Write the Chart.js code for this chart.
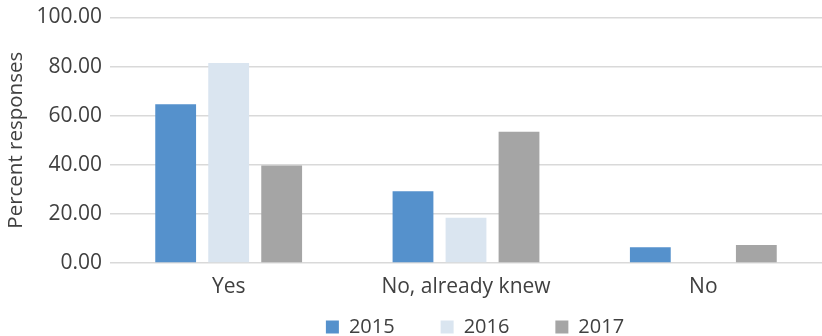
<!DOCTYPE html>
<html>
<head>
<meta charset="utf-8">
<script src="https://cdn.jsdelivr.net/npm/chart.js@4"></script>
<style>
  html, body { margin: 0; padding: 0; background: #fff; }
  #wrap { width: 822px; height: 336px; }
</style>
</head>
<body>
<div id="wrap"><canvas id="BarChart"></canvas></div>
<script>
const categories = ['Yes', 'No, already knew', 'No'];
const years = ['2015', '2016', '2017'];
const values2015 = [64.7, 29.2, 6.4];
const values2016 = [81.5, 18.4, 0];
const values2017 = [39.7, 53.5, 7.3];
const yTicks = [0, 20, 40, 60, 80, 100];

const colors = ['#5591cc', '#dae5f0', '#a5a5a5'];
const textColor = '#404040';
const fontFamily = "'Open Sans', sans-serif";

// move the legend where the original has it
const legendShift = {
    id: 'legendShift',
    beforeInit(chart) {
        const lg = chart.legend;
        const origFit = lg.fit;
        lg.fit = function () {
            origFit.call(this);
            this.height = 33;
        };
    },
    afterLayout(chart) {
        const lg = chart.legend;
        const pad = chart.options.plugins.legend.labels.padding;
        lg.left += 64;
        lg.right += 64;
        lg.top = 317 - pad;
    }
};

const ctx = document.getElementById('BarChart');

new Chart(ctx, {
    type: 'bar',
    data: {
        labels: categories,
        datasets: [
            { label: years[0], data: values2015, backgroundColor: colors[0] },
            { label: years[1], data: values2016, backgroundColor: colors[1] },
            { label: years[2], data: values2017, backgroundColor: colors[2] }
        ]
    },
    options: {
        responsive: true,
        maintainAspectRatio: false,
        animation: false,
        layout: { padding: { top: 0, right: 0, left: 0, bottom: 0 } },
        datasets: {
            bar: { categoryPercentage: 0.67, barPercentage: 0.77 }
        },
        scales: {
            x: {
                grid: { display: false },
                border: { display: false },
                ticks: { color: textColor, font: { family: fontFamily, size: 21 }, padding: 3 },
                afterFit: (scale) => { scale.height = 40; }
            },
            y: {
                min: 0,
                max: 100,
                afterBuildTicks: (scale) => { scale.ticks = yTicks.map(v => ({ value: v })); },
                grid: { color: '#d9d9d9', lineWidth: 1.5, drawTicks: false },
                border: { display: false },
                ticks: {
                    color: textColor,
                    font: { family: fontFamily, size: 21, lineHeight: 0.9 },
                    padding: 8,
                    callback: (v) => Number(v).toFixed(2)
                },
                title: {
                    display: true,
                    text: 'Percent responses',
                    color: textColor,
                    font: { family: fontFamily, size: 20.5 },
                    padding: { top: 4, bottom: 0 }
                },
                afterFit: (scale) => { scale.width = 110; }
            }
        },
        plugins: {
            legend: {
                position: 'bottom',
                labels: {
                    color: textColor,
                    font: { family: fontFamily, size: 20 },
                    boxWidth: 13,
                    boxHeight: 13,
                    padding: 46
                }
            },
            tooltip: { enabled: false }
        }
    },
    plugins: [legendShift]
});
</script>
</body>
</html>
